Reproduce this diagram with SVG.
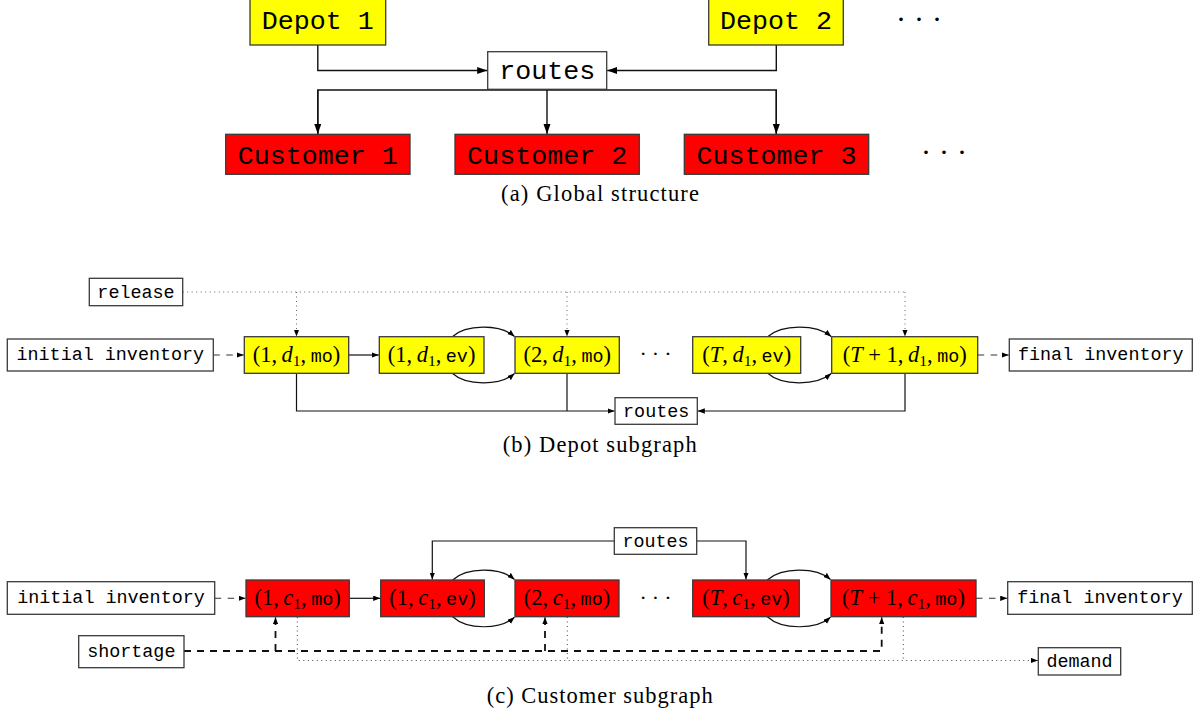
<svg xmlns="http://www.w3.org/2000/svg" width="1201" height="715" viewBox="0 0 1201 715">
<style>
.bx{stroke:#3a3a3a;stroke-width:1.3}
.w{fill:#fff}
.y{fill:#ffff00}
.r{fill:#ff0000}
.tt{font-family:"Liberation Mono","DejaVu Sans Mono",monospace;fill:#000}
.big{font-size:26.7px}
.sm{font-size:18.4px}
.m{font-family:"Liberation Serif","DejaVu Serif",serif;font-size:22.5px;fill:#000}
.i{font-style:italic}
.sub{font-size:15.5px}
.cap{font-family:"Liberation Serif","DejaVu Serif",serif;font-size:22.5px;fill:#000}
.dots{font-family:"Liberation Serif",serif;fill:#000}
.ln{fill:none;stroke:#111;stroke-width:1.2}
.lnb{fill:none;stroke:#111;stroke-width:1.4}
.ds{fill:none;stroke:#333;stroke-width:1.1;stroke-dasharray:6.5 6.5}
.dt{fill:none;stroke:#666;stroke-width:1;stroke-dasharray:1 3.5}
.dt2{fill:none;stroke:#444;stroke-width:1;stroke-dasharray:1 3.5}
.sh{fill:none;stroke:#111;stroke-width:1.8;stroke-dasharray:7 6}
</style>
<defs>
<marker id="ab" markerWidth="11" markerHeight="8" refX="10" refY="3.5" orient="auto" markerUnits="userSpaceOnUse"><path d="M0,0 L10,3.5 L0,7 z" fill="#000"/></marker>
<marker id="as" markerWidth="8" markerHeight="6" refX="7" refY="2.7" orient="auto" markerUnits="userSpaceOnUse"><path d="M0,0 L7,2.7 L0,5.4 z" fill="#000"/></marker>
</defs>

<!-- (a) Global structure -->
<g id="connectors-a">
<path class="lnb" d="M317.8,45 V70.5 H487.2" marker-end="url(#ab)"/>
<path class="lnb" d="M776.3,45 V70.5 H607.2" marker-end="url(#ab)"/>
<path class="lnb" d="M317.8,134 V90 H776.3 V134" />
<path class="lnb" d="M317.8,90 V134" marker-end="url(#ab)"/>
<path class="lnb" d="M547,90 V134" marker-end="url(#ab)"/>
<path class="lnb" d="M776.3,90 V134" marker-end="url(#ab)"/>
</g>
<g id="depot1"><rect class="bx y" x="250" y="-2" width="135.7" height="47"/><text class="tt big" x="317.8" y="29" text-anchor="middle">Depot 1</text></g>
<g id="depot2"><rect class="bx y" x="708.7" y="-2" width="134.6" height="47"/><text class="tt big" x="776" y="29" text-anchor="middle">Depot 2</text></g>
<g id="dots-a1"><text class="dots" x="923" y="29" font-size="30" text-anchor="middle" letter-spacing="8">···</text></g>
<g id="routes-a"><rect class="bx w" x="487.7" y="51.7" width="119" height="37.6"/><text class="tt big" x="547.2" y="79" text-anchor="middle">routes</text></g>
<g id="customer1"><rect class="bx r" x="225.7" y="134.3" width="184.3" height="40"/><text class="tt big" x="317.8" y="163.5" text-anchor="middle">Customer 1</text></g>
<g id="customer2"><rect class="bx r" x="455" y="134.3" width="184.3" height="40"/><text class="tt big" x="547.2" y="163.5" text-anchor="middle">Customer 2</text></g>
<g id="customer3"><rect class="bx r" x="684.3" y="134.3" width="184.4" height="40"/><text class="tt big" x="776.5" y="163.5" text-anchor="middle">Customer 3</text></g>
<g id="dots-a2"><text class="dots" x="948" y="162" font-size="30" text-anchor="middle" letter-spacing="8">···</text></g>
<text class="cap" x="501" y="201" textLength="198" lengthAdjust="spacing">(a) Global structure</text>

<!-- (b) Depot subgraph -->
<g id="connectors-b">
<path class="dt" d="M182.7,292 H905"/>
<path class="dt" d="M296.5,292 V336.5" marker-end="url(#as)"/>
<path class="dt" d="M567,292 V336.5" marker-end="url(#as)"/>
<path class="dt" d="M905,292 V336.5" marker-end="url(#as)"/>
<path class="ds" d="M213.3,355 H243.8" marker-end="url(#as)"/>
<path class="ln" d="M348.7,355 H378.8" marker-end="url(#as)"/>
<path class="ln" d="M452,337 C466,324 500,324 514.5,336.5" marker-end="url(#as)"/>
<path class="ln" d="M452,373 C466,386 500,386 514.5,373.5" marker-end="url(#as)"/>
<path class="ln" d="M767.3,337 C782,324 816,324 831.2,336.5" marker-end="url(#as)"/>
<path class="ln" d="M767.3,373 C782,386 816,386 831.2,373.5" marker-end="url(#as)"/>
<path class="ds" d="M977.7,355 H1008.8" marker-end="url(#as)"/>
<path class="ln" d="M296.5,373.3 V411 H614.5" marker-end="url(#as)"/>
<path class="ln" d="M567,373.3 V411"/>
<path class="ln" d="M905,373.3 V411 H697.8" marker-end="url(#as)"/>
</g>
<g id="release"><rect class="bx w" x="89.3" y="278.3" width="93.4" height="27.4"/><text class="tt sm" x="136" y="297.5" text-anchor="middle">release</text></g>
<g id="init-b"><rect class="bx w" x="7.3" y="339" width="206" height="32"/><text class="tt sm" x="110.3" y="360" text-anchor="middle">initial inventory</text></g>
<g id="d-1mo"><rect class="bx y" x="244.3" y="336.7" width="104.4" height="36.6"/><text class="m" x="296.5" y="361.5" text-anchor="middle">(1,&#8201;<tspan class="i">d</tspan><tspan class="sub" dy="4">1</tspan><tspan dy="-4">,&#8201;</tspan><tspan class="tt sm">mo</tspan>)</text></g>
<g id="d-1ev"><rect class="bx y" x="379.3" y="336.7" width="104.7" height="36.6"/><text class="m" x="431.6" y="361.5" text-anchor="middle">(1,&#8201;<tspan class="i">d</tspan><tspan class="sub" dy="4">1</tspan><tspan dy="-4">,&#8201;</tspan><tspan class="tt sm">ev</tspan>)</text></g>
<g id="d-2mo"><rect class="bx y" x="515" y="336.7" width="104.3" height="36.6"/><text class="m" x="567.2" y="361.5" text-anchor="middle">(2,&#8201;<tspan class="i">d</tspan><tspan class="sub" dy="4">1</tspan><tspan dy="-4">,&#8201;</tspan><tspan class="tt sm">mo</tspan>)</text></g>
<g id="dots-b"><text class="dots" x="658" y="361" font-size="22" text-anchor="middle" letter-spacing="5">···</text></g>
<g id="d-Tev"><rect class="bx y" x="692.7" y="336.7" width="108" height="36.6"/><text class="m" x="746.7" y="361.5" text-anchor="middle">(<tspan class="i">T</tspan>,&#8201;<tspan class="i">d</tspan><tspan class="sub" dy="4">1</tspan><tspan dy="-4">,&#8201;</tspan><tspan class="tt sm">ev</tspan>)</text></g>
<g id="d-T1mo"><rect class="bx y" x="831.7" y="336.7" width="146" height="36.6"/><text class="m" x="904.7" y="361.5" text-anchor="middle">(<tspan class="i">T</tspan> + 1,&#8201;<tspan class="i">d</tspan><tspan class="sub" dy="4">1</tspan><tspan dy="-4">,&#8201;</tspan><tspan class="tt sm">mo</tspan>)</text></g>
<g id="final-b"><rect class="bx w" x="1009.3" y="339" width="183" height="32"/><text class="tt sm" x="1100.8" y="360" text-anchor="middle">final inventory</text></g>
<g id="routes-b"><rect class="bx w" x="615" y="397.7" width="82.3" height="26.6"/><text class="tt sm" x="656.2" y="416.5" text-anchor="middle">routes</text></g>
<text class="cap" x="502.7" y="452" textLength="194" lengthAdjust="spacing">(b) Depot subgraph</text>

<!-- (c) Customer subgraph -->
<g id="connectors-c">
<path class="ds" d="M214.7,598.3 H245.5" marker-end="url(#as)"/>
<path class="ln" d="M349.3,598.3 H380.2" marker-end="url(#as)"/>
<path class="ln" d="M452.7,580 C467,567 500,567 514.5,579.5" marker-end="url(#as)"/>
<path class="ln" d="M452.7,616.7 C467,630 500,630 514.5,617.2" marker-end="url(#as)"/>
<path class="ln" d="M767.3,580 C782,567 816,567 830.5,579.5" marker-end="url(#as)"/>
<path class="ln" d="M767.3,616.7 C782,630 816,630 830.5,617.2" marker-end="url(#as)"/>
<path class="ds" d="M976,598.3 H1007.2" marker-end="url(#as)"/>
<path class="ln" d="M614.3,541 H432.3 V579.5" marker-end="url(#as)"/>
<path class="ln" d="M696.7,541 H746 V579.5" marker-end="url(#as)"/>
<path class="sh" d="M184,651 H881.7 V624"/>
<path class="sh" d="M275.5,651 V624"/>
<path class="sh" d="M545,651 V624"/>
<path class="ln" d="M275.5,624 V617.3" marker-end="url(#as)"/>
<path class="ln" d="M545,624 V617.3" marker-end="url(#as)"/>
<path class="ln" d="M881.7,624 V617.3" marker-end="url(#as)"/>
<path class="dt2" d="M297.3,617 V660.5 H1037.8" marker-end="url(#as)"/>
<path class="dt2" d="M567.3,617 V660.5"/>
<path class="dt2" d="M903.3,617 V660.5"/>
</g>
<g id="routes-c"><rect class="bx w" x="614.3" y="527.7" width="82.4" height="26.6"/><text class="tt sm" x="655.5" y="546.5" text-anchor="middle">routes</text></g>
<g id="init-c"><rect class="bx w" x="7.3" y="581.7" width="207.4" height="32.6"/><text class="tt sm" x="111" y="603" text-anchor="middle">initial inventory</text></g>
<g id="c-1mo"><rect class="bx r" x="246" y="580" width="103.3" height="36.7"/><text class="m" x="297.6" y="605" text-anchor="middle">(1,&#8201;<tspan class="i">c</tspan><tspan class="sub" dy="4">1</tspan><tspan dy="-4">,&#8201;</tspan><tspan class="tt sm">mo</tspan>)</text></g>
<g id="c-1ev"><rect class="bx r" x="380.7" y="580" width="103.6" height="36.7"/><text class="m" x="432.5" y="605" text-anchor="middle">(1,&#8201;<tspan class="i">c</tspan><tspan class="sub" dy="4">1</tspan><tspan dy="-4">,&#8201;</tspan><tspan class="tt sm">ev</tspan>)</text></g>
<g id="c-2mo"><rect class="bx r" x="515" y="580" width="104" height="36.7"/><text class="m" x="567" y="605" text-anchor="middle">(2,&#8201;<tspan class="i">c</tspan><tspan class="sub" dy="4">1</tspan><tspan dy="-4">,&#8201;</tspan><tspan class="tt sm">mo</tspan>)</text></g>
<g id="dots-c"><text class="dots" x="658" y="604.5" font-size="22" text-anchor="middle" letter-spacing="5">···</text></g>
<g id="c-Tev"><rect class="bx r" x="692.7" y="580" width="106.6" height="36.7"/><text class="m" x="746" y="605" text-anchor="middle">(<tspan class="i">T</tspan>,&#8201;<tspan class="i">c</tspan><tspan class="sub" dy="4">1</tspan><tspan dy="-4">,&#8201;</tspan><tspan class="tt sm">ev</tspan>)</text></g>
<g id="c-T1mo"><rect class="bx r" x="831" y="580" width="145" height="36.7"/><text class="m" x="903.5" y="605" text-anchor="middle">(<tspan class="i">T</tspan> + 1,&#8201;<tspan class="i">c</tspan><tspan class="sub" dy="4">1</tspan><tspan dy="-4">,&#8201;</tspan><tspan class="tt sm">mo</tspan>)</text></g>
<g id="final-c"><rect class="bx w" x="1007.7" y="581.7" width="184.6" height="32.6"/><text class="tt sm" x="1100" y="603" text-anchor="middle">final inventory</text></g>
<g id="shortage"><rect class="bx w" x="78.7" y="635.7" width="105.3" height="32"/><text class="tt sm" x="131.3" y="656.5" text-anchor="middle">shortage</text></g>
<g id="demand"><rect class="bx w" x="1038.3" y="647.7" width="82.4" height="27.3"/><text class="tt sm" x="1079.5" y="666.5" text-anchor="middle">demand</text></g>
<text class="cap" x="486.7" y="702.5" textLength="226" lengthAdjust="spacing">(c) Customer subgraph</text>
</svg>
